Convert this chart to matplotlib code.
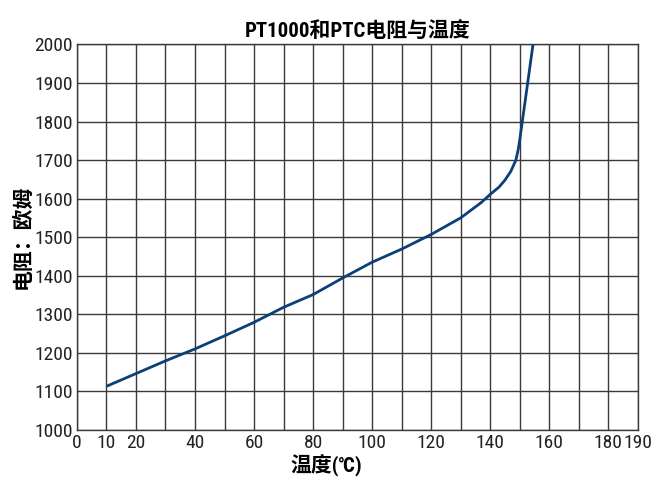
import matplotlib
matplotlib.use("Agg")
import matplotlib.pyplot as plt
from matplotlib.ticker import MultipleLocator

plt.rcParams["font.family"] = ["Roboto Condensed", "Noto Sans CJK SC", "DejaVu Sans"]

temperature = [10, 20, 30, 40, 50, 60, 70, 80, 90, 100, 110, 120, 130,
               137, 140, 143, 145, 147, 148.7, 149.5, 150, 152.6, 154.5]
resistance = [1113, 1146, 1179, 1210, 1244, 1279, 1318, 1351, 1394, 1435,
              1469, 1507, 1550, 1590, 1611, 1630, 1648, 1671, 1700, 1728,
              1752, 1895, 2000]
x_ticks = [0, 10, 20, 40, 60, 80, 100, 120, 140, 160, 180, 190]
y_ticks = list(range(1000, 2001, 100))

title = "PT1000和PTC电阻与温度"
x_label = "温度(℃)"
y_label = "电阻：欧姆"


def main() -> None:
    fig = plt.figure(figsize=(6.63, 4.83), dpi=100)
    ax = fig.add_axes([0.116, 0.11, 0.846, 0.798])

    ax.plot(temperature, resistance, color="#0b3f78", lw=2.0,
            solid_capstyle="butt", solid_joinstyle="round", zorder=3)

    ax.set_xlim(0, 190)
    ax.set_ylim(1000, 2000)
    ax.set_xticks(x_ticks)
    ax.set_yticks(y_ticks)
    ax.xaxis.set_minor_locator(MultipleLocator(10))
    ax.grid(True, which="both", color="#3a3a3a", lw=1.0)
    ax.tick_params(which="both", length=0, labelsize=14, pad=3,
                   labelcolor="#222222")
    for spine in ax.spines.values():
        spine.set_color("#3a3a3a")
        spine.set_linewidth(1.0)

    ax.set_title(title, fontsize=15, fontweight="bold", pad=5)
    ax.set_xlabel(x_label, fontsize=15, fontweight="bold")
    ax.xaxis.set_label_coords(0.445, -0.065)
    ax.set_ylabel(y_label, fontsize=15, fontweight="bold")
    ax.yaxis.set_label_coords(-0.079, 0.5)

    fig.savefig("out.png", dpi=100)


if __name__ == "__main__":
    main()
